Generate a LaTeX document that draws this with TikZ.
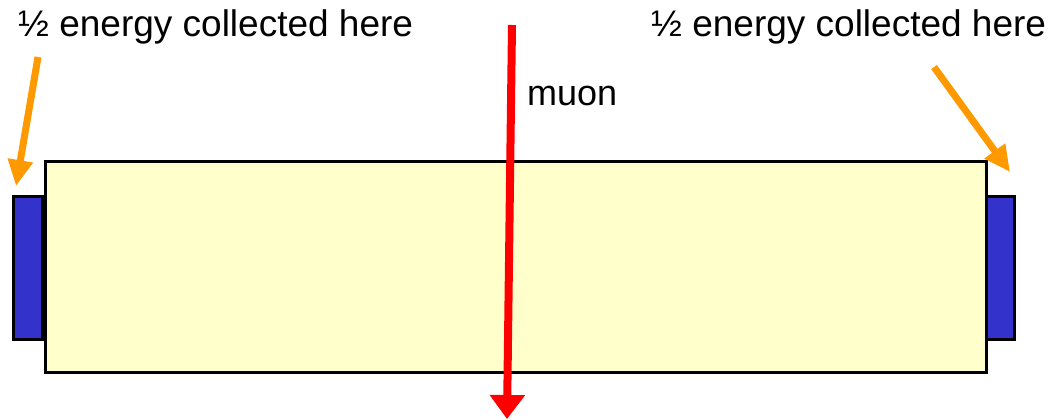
\documentclass[tikz,border=0pt]{standalone}
\usepackage{fontspec}
\setmainfont{Liberation Sans}
\usetikzlibrary{arrows.meta}
\definecolor{scint}{RGB}{255,255,204}
\definecolor{pmt}{RGB}{51,51,204}
\definecolor{arrorange}{RGB}{255,153,0}
\definecolor{muonred}{RGB}{255,0,0}
\tikzset{
  lbl/.style={font=\fontsize{37}{40}\selectfont, inner sep=0pt, anchor=base west},
  box/.style={draw=black, line width=3pt, inner sep=0pt, outer sep=0pt, minimum width=#1},
  orangearrow/.style={draw=arrorange, line width=7pt, -{Triangle[length=26pt,width=24pt]}},
  muonarrow/.style={draw=muonred, line width=8pt, -{Triangle[length=24pt,width=34pt]}}
}
\begin{document}
\begin{tikzpicture}[x=1pt,y=-1pt]
\useasboundingbox (0,0) rectangle (1050,420);
\node[box=29pt, fill=pmt, minimum height=143pt, anchor=north west] (pmtL) at (13,196) {};
\node[box=28pt, fill=pmt, minimum height=143pt, anchor=north west] (pmtR) at (986,196) {};
\node[box=941pt, fill=scint, minimum height=211pt, anchor=north west] (bar) at (45,161) {};
\node[lbl] (txtL) at (18,37) {½ energy collected here};
\node[lbl] (txtR) at (651,37) {½ energy collected here};
\node[lbl, font=\fontsize{36}{40}\selectfont] (muon) at (527,105) {muon};
\coordinate (mS) at (512,25);
\coordinate (mE) at (507,419);
\coordinate (aLs) at (38,57);
\coordinate (aLe) at (16,186);
\coordinate (aRs) at (934,67);
\coordinate (aRe) at (1010,172);
\draw[orangearrow] (aLs) -- (aLe);
\draw[orangearrow] (aRs) -- (aRe);
\draw[muonarrow] (mS) -- (mE);
\end{tikzpicture}
\end{document}
